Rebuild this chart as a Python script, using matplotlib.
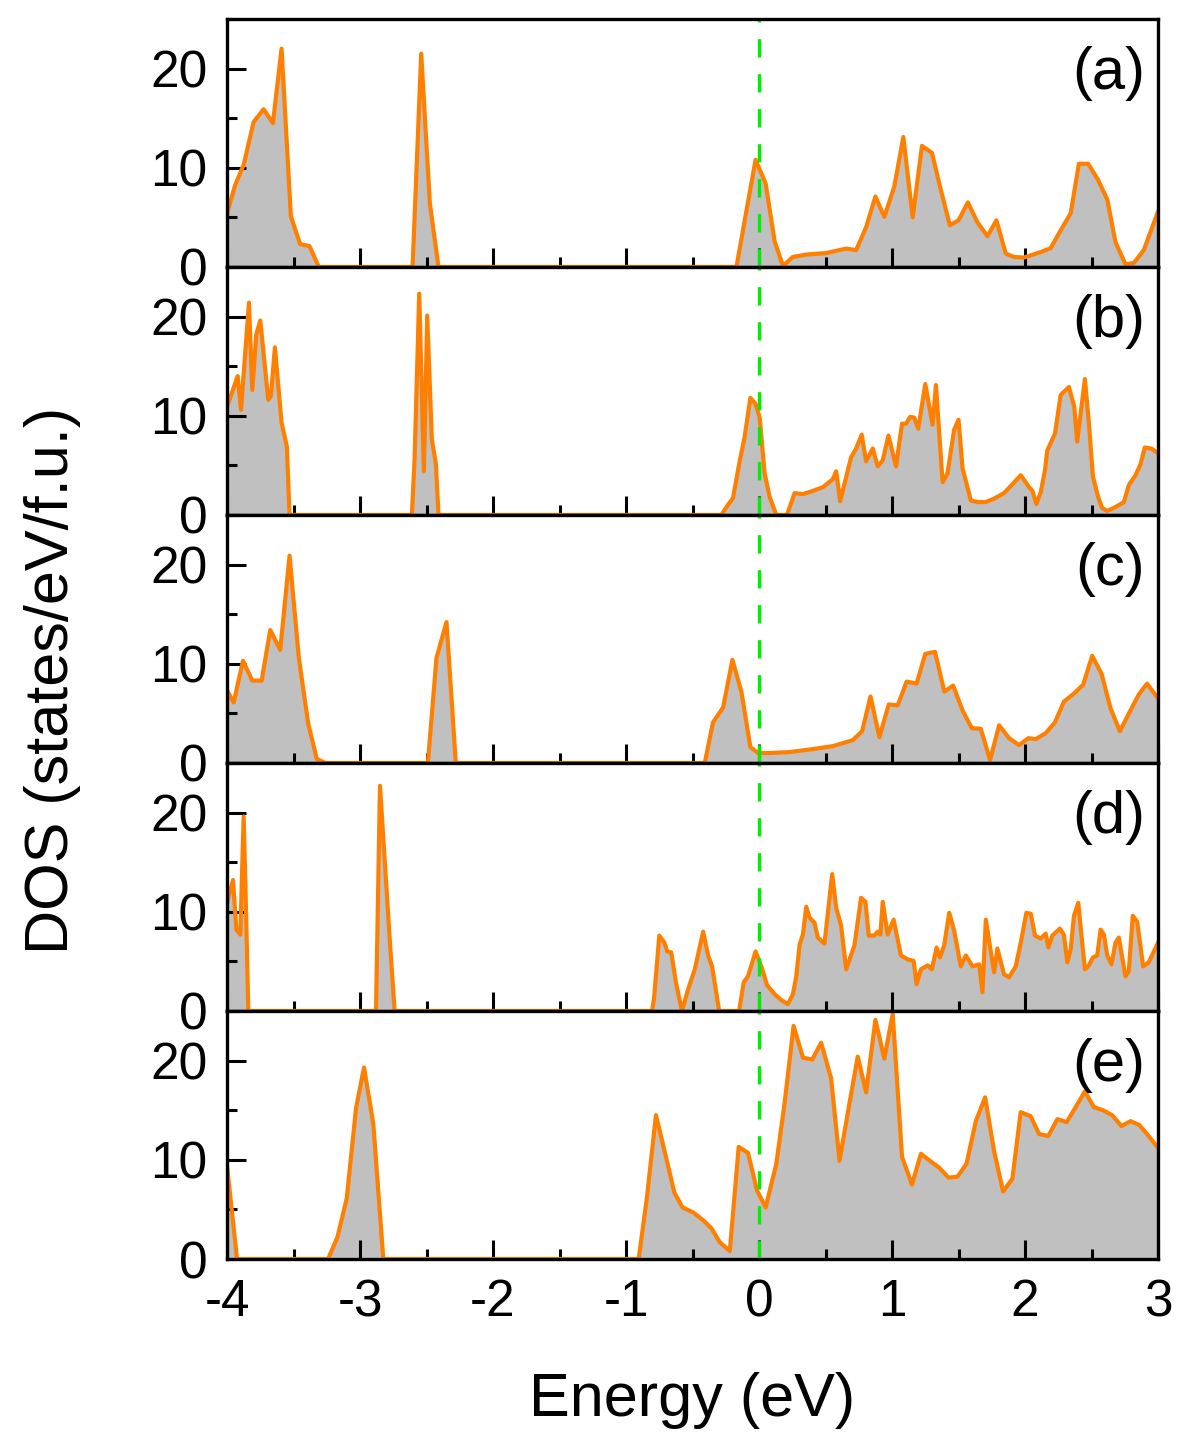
import numpy as np
import matplotlib
matplotlib.use("Agg")
import matplotlib.pyplot as plt
from matplotlib.ticker import MultipleLocator

# ---- data (energy in eV, DOS in states/eV/f.u.) ----
e_a = [-4.0, -3.94, -3.875, -3.8, -3.725, -3.655, -3.59, -3.52, -3.45, -3.38,
       -3.31, -2.605, -2.54, -2.475, -2.41, -0.17, -0.026, 0.05, 0.117, 0.18,
       0.254, 0.355, 0.505, 0.655, 0.73, 0.805, 0.875, 0.942, 1.017, 1.085,
       1.155, 1.225, 1.3, 1.368, 1.435, 1.5, 1.57, 1.642, 1.717, 1.785,
       1.855, 1.917, 1.992, 2.118, 2.193, 2.268, 2.343, 2.405, 2.475, 2.55,
       2.618, 2.68, 2.755, 2.818, 2.893, 3.0]
dos_a = [5.4, 8.2, 10.3, 14.6, 15.9, 14.5, 22.0, 5.1, 2.3, 2.1,
         0, 0, 21.5, 6.4, 0, 0, 10.8, 8.4, 2.6, 0.1,
         1.0, 1.25, 1.4, 1.85, 1.7, 4.0, 7.1, 5.05, 8.1, 13.1,
         5.0, 12.2, 11.5, 7.7, 4.2, 4.7, 6.5, 4.5, 3.1, 4.7,
         1.35, 1.0, 0.95, 1.5, 1.9, 3.7, 5.4, 10.4, 10.4, 8.75,
         6.8, 2.5, 0.27, 0.4, 1.7, 5.6]

e_b = [-4.0, -3.92, -3.895, -3.835, -3.81, -3.78, -3.75, -3.69, -3.67, -3.64,
       -3.59, -3.55, -3.53, -2.61, -2.59, -2.555, -2.52, -2.495, -2.46, -2.43,
       -2.41, -0.283, -0.245, -0.196, -0.15, -0.108, -0.065, -0.026, 0.005, 0.042,
       0.08, 0.13, 0.21, 0.267, 0.33, 0.4, 0.48, 0.555, 0.58, 0.61,
       0.655, 0.692, 0.73, 0.772, 0.805, 0.855, 0.892, 0.93, 0.973, 1.03,
       1.075, 1.105, 1.137, 1.167, 1.197, 1.25, 1.305, 1.33, 1.38, 1.417,
       1.467, 1.5, 1.53, 1.593, 1.642, 1.705, 1.767, 1.842, 1.905, 1.968,
       2.03, 2.055, 2.085, 2.118, 2.15, 2.167, 2.225, 2.268, 2.33, 2.37,
       2.392, 2.45, 2.48, 2.51, 2.55, 2.58, 2.618, 2.68, 2.743, 2.78,
       2.83, 2.868, 2.9, 2.95, 3.0]
dos_b = [10.9, 14.0, 10.6, 21.4, 12.6, 18.2, 19.6, 11.6, 12.0, 16.9,
         9.3, 6.9, 0, 0, 5.6, 22.3, 4.4, 20.1, 7.6, 5.2,
         0, 0, 0.8, 1.7, 5.1, 7.9, 11.8, 11.2, 9.8, 4.2,
         1.8, 0, 0, 2.2, 2.1, 2.4, 2.8, 3.6, 4.4, 1.4,
         3.8, 5.8, 6.7, 8.1, 5.4, 6.7, 4.9, 5.5, 8.0, 4.9,
         9.2, 9.2, 9.9, 9.8, 8.7, 13.2, 9.1, 13.1, 3.3, 4.2,
         8.6, 9.6, 4.7, 1.45, 1.3, 1.3, 1.65, 2.2, 3.1, 4.0,
         2.8, 2.45, 1.1, 2.3, 4.5, 6.5, 8.2, 12.1, 12.9, 10.9,
         7.4, 13.7, 9.3, 3.9, 1.8, 0.7, 0.4, 0.8, 1.3, 3.0,
         4.0, 5.1, 6.8, 6.7, 6.2]

e_c = [-4.0, -3.95, -3.88, -3.81, -3.74, -3.675, -3.6, -3.53, -3.46, -3.39,
       -3.325, -3.26, -2.49, -2.425, -2.35, -2.28, -0.408, -0.346, -0.27, -0.2,
       -0.133, -0.065, -0.008, 0.08, 0.23, 0.405, 0.555, 0.705, 0.775, 0.838,
       0.905, 0.975, 1.042, 1.11, 1.185, 1.25, 1.323, 1.393, 1.46, 1.53,
       1.6, 1.667, 1.737, 1.805, 1.88, 1.955, 2.025, 2.08, 2.155, 2.225,
       2.293, 2.368, 2.437, 2.505, 2.575, 2.643, 2.713, 2.785, 2.855, 2.917,
       3.0]
dos_c = [7.3, 6.1, 10.3, 8.3, 8.3, 13.4, 11.4, 20.9, 10.6, 4.0,
         0.4, 0, 0, 10.6, 14.2, 0, 0, 4.1, 5.6, 10.4,
         7.2, 1.6, 1.0, 1.0, 1.1, 1.4, 1.7, 2.3, 3.2, 6.7,
         2.6, 5.9, 5.8, 8.2, 8.0, 11.0, 11.2, 7.2, 7.8, 5.3,
         3.5, 3.45, 0.3, 3.8, 2.5, 1.8, 2.5, 2.4, 3.0, 4.1,
         6.2, 7.0, 7.9, 10.8, 9.0, 5.5, 3.2, 5.1, 6.9, 8.0,
         6.5]

e_d = [-4.0, -3.955, -3.93, -3.9, -3.875, -3.855, -3.84, -2.88, -2.85, -2.775,
       -2.74, -0.805, -0.79, -0.75, -0.712, -0.69, -0.66, -0.625, -0.58, -0.533,
       -0.483, -0.42, -0.383, -0.353, -0.3, -0.15, -0.115, -0.083, -0.026, 0.025,
       0.06, 0.117, 0.167, 0.217, 0.255, 0.28, 0.305, 0.33, 0.355, 0.38,
       0.417, 0.442, 0.492, 0.55, 0.58, 0.617, 0.655, 0.717, 0.767, 0.8,
       0.825, 0.867, 0.892, 0.912, 0.93, 0.967, 1.012, 1.067, 1.117, 1.162,
       1.185, 1.217, 1.267, 1.3, 1.335, 1.36, 1.392, 1.43, 1.467, 1.517,
       1.555, 1.605, 1.655, 1.68, 1.705, 1.767, 1.792, 1.842, 1.88, 1.93,
       1.968, 2.01, 2.043, 2.075, 2.118, 2.155, 2.175, 2.205, 2.262, 2.292,
       2.318, 2.343, 2.368, 2.4, 2.45, 2.48, 2.51, 2.543, 2.568, 2.593,
       2.618, 2.65, 2.68, 2.705, 2.755, 2.78, 2.81, 2.843, 2.888, 2.93,
       3.0]
dos_d = [10.9, 13.2, 8.2, 7.7, 19.6, 8.9, 0, 0, 22.7, 6.9,
         0, 0, 1.2, 7.6, 6.9, 6.0, 5.9, 2.9, 0, 2.2,
         4.2, 8.0, 5.6, 4.5, 0, 0, 2.9, 3.5, 6.0, 4.2,
         2.6, 1.7, 1.1, 0.7, 1.7, 3.5, 6.7, 7.7, 10.5, 9.4,
         8.9, 7.4, 6.8, 13.8, 10.4, 8.6, 4.2, 6.6, 11.4, 11.0,
         7.6, 7.6, 8.0, 7.7, 11.0, 7.7, 9.2, 5.6, 5.2, 5.05,
         2.7, 4.2, 4.6, 4.2, 6.4, 5.4, 6.6, 9.9, 8.1, 4.5,
         5.6, 4.5, 4.7, 1.9, 9.2, 3.9, 6.3, 3.7, 3.4, 4.5,
         6.9, 9.9, 9.8, 7.6, 7.3, 7.8, 6.4, 7.6, 8.3, 7.7,
         4.9, 6.2, 9.6, 10.9, 4.2, 4.6, 5.4, 5.6, 8.2, 7.7,
         5.6, 4.7, 6.9, 7.4, 3.5, 4.0, 9.6, 9.0, 4.5, 4.9,
         6.9]

e_e = [-4.0, -3.925, -3.24, -3.17, -3.1, -3.03, -2.97, -2.9, -2.825, -0.905,
       -0.843, -0.775, -0.7, -0.637, -0.575, -0.496, -0.42, -0.358, -0.296, -0.22,
       -0.153, -0.083, -0.015, 0.05, 0.13, 0.192, 0.26, 0.33, 0.4, 0.467,
       0.542, 0.605, 0.68, 0.742, 0.805, 0.875, 0.942, 1.005, 1.075, 1.15,
       1.217, 1.285, 1.355, 1.425, 1.492, 1.56, 1.63, 1.7, 1.767, 1.835,
       1.905, 1.967, 2.042, 2.105, 2.175, 2.243, 2.313, 2.38, 2.45, 2.518,
       2.585, 2.655, 2.725, 2.793, 2.86, 2.917, 3.0]
dos_e = [9.4, 0, 0, 2.2, 6.1, 15.2, 19.3, 13.6, 0, 0,
         6.2, 14.5, 10.3, 6.7, 5.2, 4.7, 3.9, 3.1, 1.7, 0.8,
         11.3, 10.7, 6.9, 5.2, 9.6, 15.7, 23.5, 20.3, 20.1, 21.8,
         18.2, 9.9, 15.7, 20.4, 16.8, 24.1, 20.2, 24.7, 10.3, 7.5,
         10.6, 9.9, 9.2, 8.2, 8.3, 9.6, 13.9, 16.3, 10.9, 6.8,
         8.1, 14.8, 14.4, 12.6, 12.4, 14.1, 13.8, 15.3, 16.9, 15.3,
         15.0, 14.5, 13.4, 13.9, 13.5, 12.6, 11.2]

panels = [("(a)", e_a, dos_a), ("(b)", e_b, dos_b), ("(c)", e_c, dos_c),
          ("(d)", e_d, dos_d), ("(e)", e_e, dos_e)]

ORANGE = "#ff8000"; FILL = "#c0c0c0"; GREEN = "#00ee00"

plt.rcParams.update({"font.family": ["Liberation Sans", "DejaVu Sans"],
                     "font.size": 37, "axes.unicode_minus": False})

fig, axes = plt.subplots(5, 1, sharex=True, figsize=(11.93, 14.56), dpi=100)
fig.subplots_adjust(left=0.1903, right=0.9707, top=0.987, bottom=0.1353, hspace=0)

for ax, (lab, e, d) in zip(axes, panels):
    ax.fill_between(e, d, 0, color=FILL, lw=0, zorder=1)
    ax.plot(e, d, color=ORANGE, lw=3.0, zorder=2)
    ax.axvline(0, color=GREEN, lw=2.4, dashes=(5.5, 5), zorder=3)
    ax.set_xlim(-4, 3); ax.set_ylim(0, 25)
    ax.xaxis.set_major_locator(MultipleLocator(1))
    ax.xaxis.set_minor_locator(MultipleLocator(0.5))
    ax.yaxis.set_major_locator(MultipleLocator(10))
    ax.yaxis.set_minor_locator(MultipleLocator(5))
    ax.tick_params(which="both", direction="in", top=False, right=False, width=2.2)
    ax.tick_params(which="major", length=14, labelsize=37, pad=14)
    ax.tick_params(which="minor", length=7)
    for s in ax.spines.values():
        s.set_linewidth(2.4)
        s.set_zorder(5)
    ax.text(0.986, 0.78, lab, transform=ax.transAxes, ha="right", va="center",
            fontsize=43)

fig.text(0.58, 0.038, "Energy (eV)", ha="center", va="center", fontsize=44)
fig.text(0.044, 0.533, "DOS (states/eV/f.u.)", ha="center", va="center",
         rotation=90, fontsize=44)

fig.savefig("out.png", dpi=100, facecolor="white")
